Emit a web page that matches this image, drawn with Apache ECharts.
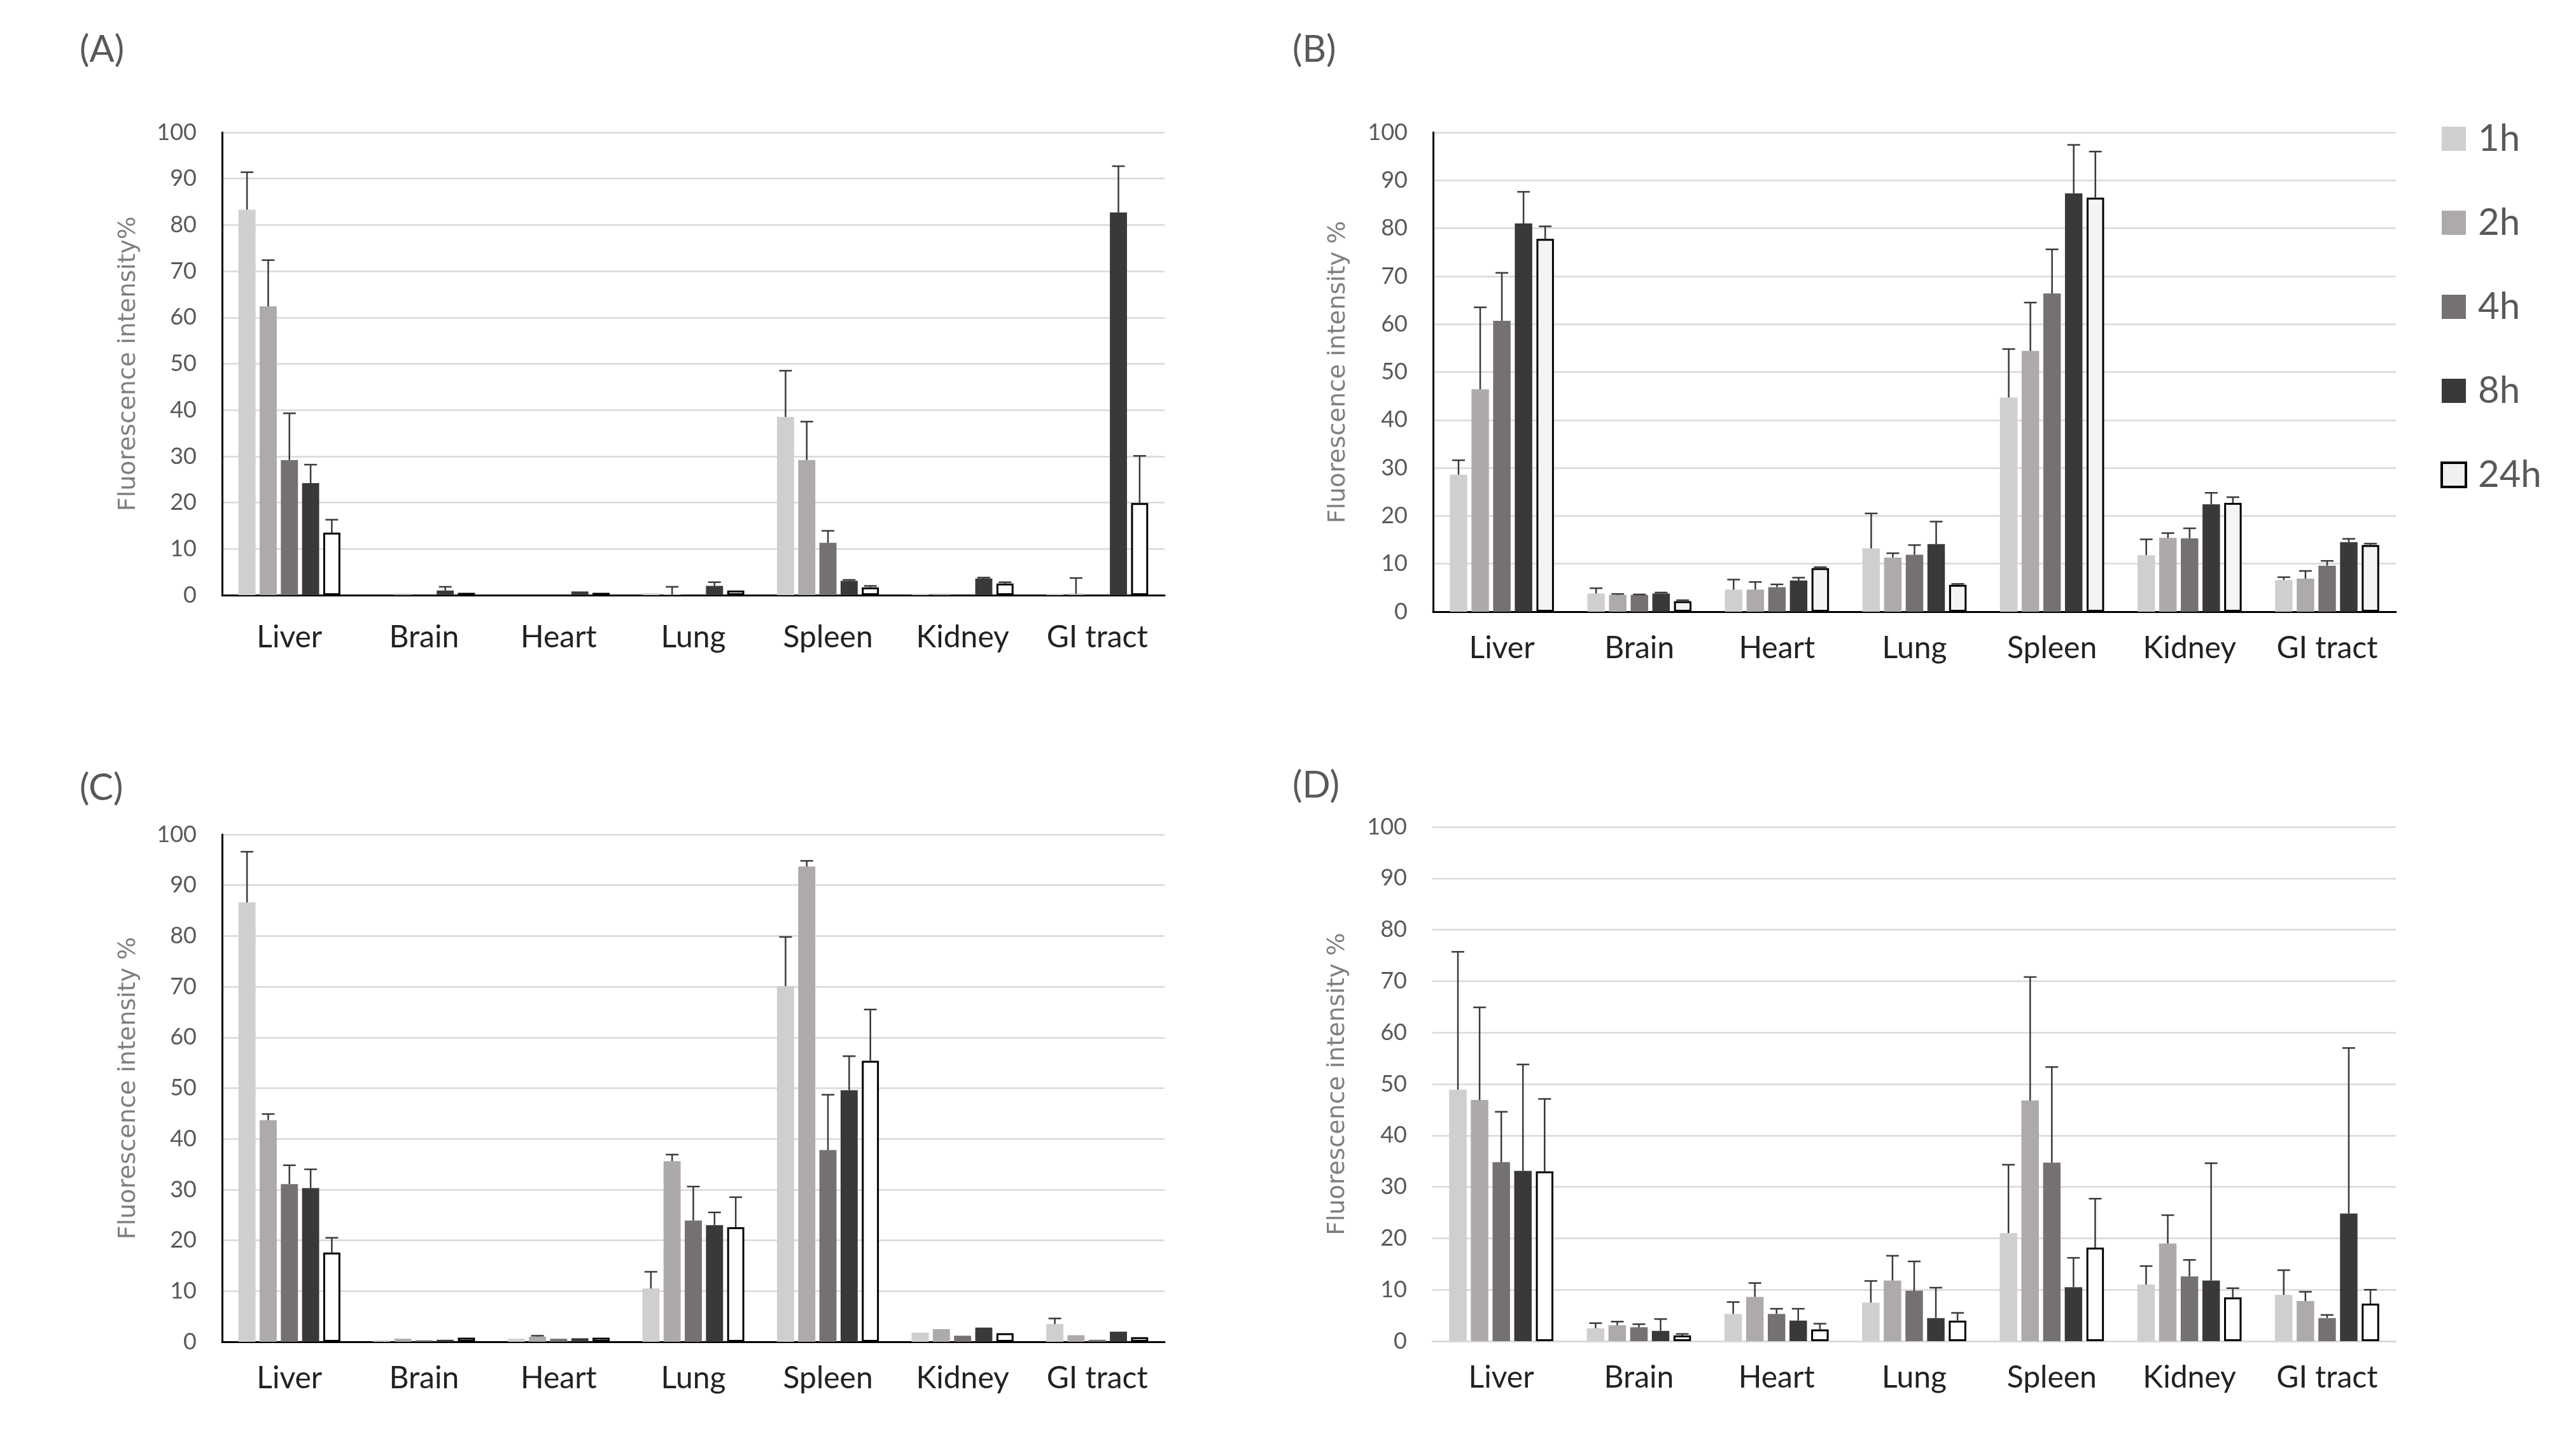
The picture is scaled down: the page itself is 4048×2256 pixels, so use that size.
<!DOCTYPE html>
<html><head><meta charset="utf-8">
<script src="https://cdn.jsdelivr.net/npm/echarts@6/dist/echarts.min.js"></script>
<style>html,body{margin:0;padding:0;background:#fff;}#c{width:4048px;height:2256px;}</style>
</head><body><div id="c"></div>
<script>
// ---------- DATA ----------
const categories = ['Liver', 'Brain', 'Heart', 'Lung', 'Spleen', 'Kidney', 'GI tract'];
const timePoints = ['1h', '2h', '4h', '8h', '24h'];
const panelLabels = ['(A)', '(B)', '(C)', '(D)'];
const axisTitles = ['Fluorescence intensity%', 'Fluorescence intensity %', 'Fluorescence intensity %', 'Fluorescence intensity %'];
const yMin = 0, yMax = 100, yStep = 10;

// mean values, one row per time point (1h, 2h, 4h, 8h, 24h), columns = categories
const meanA = [
  [83.3, 0.0, 0.0, 0.4, 38.5, 0.3, 0.3],
  [62.4, 0.3, 0.0, 0.1, 29.2, 0.3, 0.3],
  [29.2, 0.0, 0.0, 0.0, 11.3, 0.0, 0.0],
  [24.2, 1.0, 0.8, 2.0, 3.1, 3.6, 82.7],
  [13.5, 0.5, 0.5, 1.0, 1.7, 2.5, 19.9]
];
const sdA = [
  [8.1, 0, 0, 0, 10.0, 0, 0],
  [10.0, 0, 0, 1.7, 8.3, 0, 3.4],
  [10.1, 0, 0, 0, 2.6, 0, 0],
  [4.0, 0.8, 0, 0.8, 0.2, 0.2, 10.0],
  [2.8, 0, 0, 0, 0.3, 0.3, 10.2]
];
const meanB = [
  [28.6, 3.8, 4.6, 13.2, 44.7, 11.8, 6.6],
  [46.4, 3.5, 4.6, 11.3, 54.4, 15.4, 6.9],
  [60.7, 3.5, 5.1, 11.9, 66.4, 15.3, 9.6],
  [81.0, 3.8, 6.5, 14.1, 87.3, 22.4, 14.5],
  [77.8, 2.2, 9.1, 5.6, 86.4, 22.7, 13.9]
];
const sdB = [
  [3.0, 1.1, 2.1, 7.3, 10.1, 3.3, 0.6],
  [17.1, 0.2, 1.6, 0.9, 10.1, 1.0, 1.6],
  [10.0, 0.1, 0.6, 2.0, 9.2, 2.1, 1.0],
  [6.6, 0.2, 0.6, 4.7, 10.1, 2.4, 0.7],
  [2.6, 0.2, 0.2, 0.2, 9.6, 1.2, 0.3]
];
const meanC = [
  [86.6, 0.3, 0.6, 10.5, 70.1, 1.8, 3.5],
  [43.7, 0.6, 1.0, 35.6, 93.7, 2.5, 1.3],
  [31.1, 0.3, 0.6, 23.9, 37.8, 1.2, 0.4],
  [30.3, 0.4, 0.7, 23.0, 49.6, 2.8, 2.0],
  [17.6, 0.8, 0.8, 22.6, 55.4, 1.7, 0.9]
];
const sdC = [
  [10.0, 0, 0, 3.3, 9.7, 0, 1.1],
  [1.2, 0, 0.2, 1.3, 1.1, 0, 0],
  [3.7, 0, 0, 6.7, 10.9, 0, 0],
  [3.7, 0, 0, 2.5, 6.7, 0, 0],
  [2.9, 0, 0, 5.9, 10.1, 0, 0]
];
const meanD = [
  [48.9, 2.5, 5.3, 7.5, 21.0, 11.0, 9.0],
  [46.9, 3.1, 8.6, 11.8, 46.8, 19.0, 7.8],
  [34.8, 2.7, 5.3, 9.8, 34.7, 12.6, 4.5],
  [33.1, 2.0, 4.0, 4.5, 10.5, 11.8, 24.8],
  [33.0, 1.1, 2.3, 4.0, 18.2, 8.5, 7.3]
];
const sdD = [
  [26.8, 1.0, 2.3, 4.2, 13.3, 3.6, 4.8],
  [18.0, 0.7, 2.7, 4.8, 24.0, 5.5, 1.8],
  [9.8, 0.6, 1.0, 5.7, 18.6, 3.2, 0.6],
  [20.7, 2.3, 2.3, 5.9, 5.7, 22.8, 32.2],
  [14.1, 0.3, 1.1, 1.5, 9.5, 1.8, 2.7]
];
const panelMeans = [meanA, meanB, meanC, meanD];
const panelSDs = [sdA, sdB, sdC, sdD];

// ---------- STYLE / LAYOUT ----------
const FONT = 'Lato, "Open Sans", sans-serif';
const barColors = ['#D0CECE', '#AEAAAA', '#767171', '#3B3838', '#FFFFFF'];
const grids = [
  {left: 349, top: 208, width: 1481, height: 727},
  {left: 2252, top: 208, width: 1513, height: 753},
  {left: 349, top: 1311, width: 1481, height: 797},
  {left: 2251, top: 1299, width: 1514, height: 808}
];
const labelMargins = [44, 35, 35, 35];
const nameGaps = [128, 130, 128, 130];
const titlePos = [[120, 44], [2026, 44], [120, 1204], [2026, 1200]];
const BAR_FRAC = 0.127, GAP_FRAC = 0.24;

function makeErr(k) {
  return function (params, api) {
    const sd = api.value(2);
    if (!(sd > 0.05)) return null;
    const m = api.value(1);
    const idx = api.value(0);
    const c0 = api.coord([idx, m]);
    const c1 = api.coord([idx, m + sd]);
    const band = api.size([1, 0])[0];
    const bw = band * BAR_FRAC, gap = bw * GAP_FRAC;
    const total = 5 * bw + 4 * gap;
    const x = c0[0] - total / 2 + k * (bw + gap) + bw / 2;
    const cap = 10;
    const st = {stroke: '#3a3a3a', lineWidth: 2.5};
    return {type: 'group', children: [
      {type: 'line', shape: {x1: x, y1: c0[1], x2: x, y2: c1[1]}, style: st},
      {type: 'line', shape: {x1: x - cap, y1: c1[1], x2: x + cap, y2: c1[1]}, style: st}
    ]};
  };
}

const xAxes = [], yAxes = [], series = [], titles = [];
for (let p = 0; p < 4; p++) {
  const isD = p === 3;
  xAxes.push({
    type: 'category', gridIndex: p, data: categories,
    axisLine: {show: true, lineStyle: {color: isD ? '#D9D9D9' : '#000', width: isD ? 2.5 : 3}},
    axisTick: {show: false},
    axisLabel: {fontSize: 48, color: '#222', fontFamily: FONT, margin: labelMargins[p] - 1, interval: 0}
  });
  yAxes.push({
    type: 'value', gridIndex: p, min: yMin, max: yMax, interval: yStep,
    name: axisTitles[p], nameLocation: 'middle', nameGap: nameGaps[p],
    nameTextStyle: {fontSize: 38, color: '#7F7F7F', fontFamily: '"DejaVu Sans", sans-serif'},
    axisLine: {show: !isD, lineStyle: {color: '#000', width: 3}},
    axisTick: {show: false},
    axisLabel: {fontSize: 36, color: '#595959', fontFamily: FONT, margin: 40},
    splitLine: {show: true, lineStyle: {color: '#D9D9D9', width: 2.5}}
  });
  titles.push({
    text: panelLabels[p], left: titlePos[p][0], top: titlePos[p][1],
    textStyle: {fontSize: 58, fontWeight: 'normal', color: '#595959', fontFamily: FONT}
  });
  for (let k = 0; k < 5; k++) {
    const isLast = k === 4;
    series.push({
      type: 'bar', name: timePoints[k], xAxisIndex: p, yAxisIndex: p,
      data: panelMeans[p][k],
      barWidth: (BAR_FRAC * 100) + '%', barGap: (GAP_FRAC * 100) + '%',
      itemStyle: {
        color: isLast ? (p === 1 ? '#F4F4F4' : '#FFFFFF') : barColors[k],
        borderColor: isLast ? '#000' : 'transparent',
        borderWidth: isLast ? 3 : 0
      },
      z: 2
    });
  }
  for (let k = 0; k < 5; k++) {
    series.push({
      type: 'custom', name: timePoints[k] + ' SD', xAxisIndex: p, yAxisIndex: p,
      renderItem: makeErr(k),
      encode: {x: 0, y: 1},
      data: panelMeans[p][k].map((v, i) => [i, v, panelSDs[p][k][i]]),
      z: 5, silent: true
    });
  }
}

const chart = echarts.init(document.getElementById('c'), null, {renderer: 'canvas'});
chart.setOption({
  backgroundColor: '#FFFFFF',
  animation: false,
  title: titles,
  grid: grids,
  xAxis: xAxes,
  yAxis: yAxes,
  legend: {
    orient: 'vertical', left: 3830, top: 184,
    icon: 'rect',
    itemWidth: 38, itemHeight: 38, itemGap: 74,
    textStyle: {fontSize: 58, color: '#595959', fontFamily: FONT, lineHeight: 58, padding: [0, 0, 0, 14]},
    data: timePoints.map((t, k) => ({
      name: t,
      itemStyle: k === 4 ? {color: '#F0F0F0', borderColor: '#000', borderWidth: 4} : {color: barColors[k], borderWidth: 0}
    }))
  },
  series: series
});
</script></body></html>
